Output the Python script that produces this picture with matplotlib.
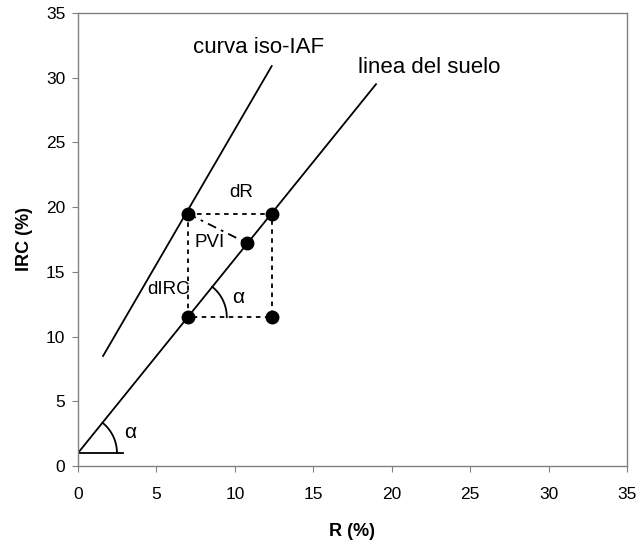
import numpy as np
import matplotlib
matplotlib.use("Agg")
import matplotlib.pyplot as plt

plt.rcParams['font.family'] = ['Liberation Sans', 'DejaVu Sans']

# linea del suelo y curva iso-IAF (extremos)
suelo_R = [0.0, 19.0]
suelo_IRC = [1.0, 29.5]
iso_R = [1.6, 12.35]
iso_IRC = [8.5, 30.9]

# puntos marcados
pts_R = [7.0, 12.4, 7.0, 12.4, 10.8]
pts_IRC = [19.5, 19.5, 11.5, 11.5, 17.2]

# rectangulo punteado dR / dIRC
rect_R = [7.0, 12.4, 12.4, 7.0, 7.0]
rect_IRC = [19.5, 19.5, 11.5, 11.5, 19.5]

# segmento PVI (perpendicular a la linea del suelo)
pvi_R = [7.0, 10.8]
pvi_IRC = [19.5, 17.2]

# base horizontal del angulo en el origen
base_R = [0.0, 2.9]
base_IRC = [1.0, 1.0]

ticks = [0, 5, 10, 15, 20, 25, 30, 35]

fig = plt.figure(figsize=(6.37, 5.44), dpi=100)
ax = fig.add_axes([0.1224, 0.1434, 0.8619, 0.8327])
ax.set_xlim(0, 35)
ax.set_ylim(0, 35)
ax.set_xticks(ticks)
ax.set_yticks(ticks)

for s in ax.spines.values():
    s.set_color('#808080')
    s.set_linewidth(1.0)
ax.tick_params(direction='out', length=4, color='#808080', labelsize=12.5)
ax.tick_params(axis='x', pad=11)
ax.tick_params(axis='y', pad=5)

ax.plot(suelo_R, suelo_IRC, color='black', lw=1.3)
ax.plot(iso_R, iso_IRC, color='black', lw=1.3)
ax.plot(base_R, base_IRC, color='black', lw=1.3)
ax.plot(rect_R, rect_IRC, color='black', lw=1.3, linestyle=(0, (2.5, 2.5)))
ax.plot(pvi_R, pvi_IRC, color='black', lw=1.3, linestyle=(0, (5, 3, 1.5, 3)))
ax.plot(pts_R, pts_IRC, 'o', color='black', ms=9)

# arcos del angulo alfa (radio fijo en pixeles)
def arco(x0, y0, r_px=39):
    p0 = ax.transData.transform((x0, y0))
    p1 = ax.transData.transform((x0 + 1, y0 + 1.5))
    ang = np.arctan2(p1[1] - p0[1], p1[0] - p0[0])
    t = np.linspace(0, ang, 40)
    disp = np.column_stack([p0[0] + r_px * np.cos(t), p0[1] + r_px * np.sin(t)])
    dat = ax.transData.inverted().transform(disp)
    ax.plot(dat[:, 0], dat[:, 1], color='black', lw=1.3)

arco(0.0, 1.0)
arco(7.0, 11.5)

ax.text(7.33, 32.3, 'curva iso-IAF', fontsize=16, va='center', ha='left')
ax.text(17.85, 30.76, 'linea del suelo', fontsize=16, va='center', ha='left')
ax.text(10.39, 21.1, 'dR', fontsize=13.5, va='center', ha='center')
ax.text(8.41, 17.3, 'PVI', fontsize=13.5, va='center', ha='center')
ax.text(7.15, 13.6, 'dIRC', fontsize=13.5, va='center', ha='right')
ax.text(10.2, 13.0, 'α', fontsize=15, va='center', ha='center')
ax.text(3.3, 2.6, 'α', fontsize=15, va='center', ha='center')

ax.set_xlabel('R (%)', fontsize=13, fontweight='bold')
ax.set_ylabel('IRC (%)', fontsize=13, fontweight='bold')
ax.xaxis.set_label_coords(0.5, -0.125)
ax.yaxis.set_label_coords(-0.082, 0.5)

fig.savefig('out.png', dpi=100)
